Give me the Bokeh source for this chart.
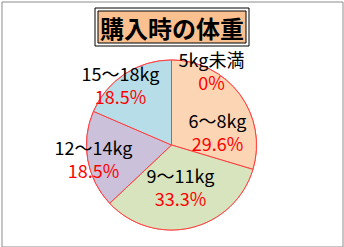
import math
from bokeh.plotting import figure
from bokeh.models import Range1d, ColumnDataSource
from bokeh.core.properties import value
from bokeh.embed import file_html
from bokeh.resources import INLINE

# ---- data ----
title = "購入時の体重"
categories = ["5kg未満", "6～8kg", "9～11kg", "12～14kg", "15～18kg"]
percents = [0.0, 29.6, 33.3, 18.5, 18.5]
pct_labels = ["0%", "29.6%", "33.3%", "18.5%", "18.5%"]
colors = ["#FCD5B5", "#FCD5B5", "#D7E4BD", "#CCC1DA", "#B7DEE8"]

# ---- layout (pixels) ----
W, H = 344, 247
CX, CY, R = 171, 144.5, 85
# label placement: polar (distance px, angle deg clockwise from top)
label_dist = [84.6, 48, 42.5, 79.2, 79.5]
label_ang = [28.2, 73.6, 167.8, 260.2, 320.1]
LINE_GAP = 11.5

def Y(ypx):
    return H - ypx

p = figure(width=W, height=H, output_backend="svg", toolbar_location=None,
           x_range=Range1d(0, W), y_range=Range1d(0, H), min_border=0)
p.axis.visible = False
p.grid.visible = False
p.outline_line_color = None
p.background_fill_color = "white"
p.border_fill_color = "white"

# outer gray frame
p.quad(left=[1.5], right=[342.5], bottom=[Y(246.5)], top=[Y(1.5)],
       fill_color=None, line_color="#8C8C8C", line_width=1)

# pie wedges
total = sum(percents)
starts, ends = [], []
cum = 0.0
for v in percents:
    a0 = math.pi / 2 - cum / total * 2 * math.pi
    cum += v
    a1 = math.pi / 2 - cum / total * 2 * math.pi
    starts.append(a0)
    ends.append(a1)
src = ColumnDataSource(dict(x=[CX] * len(percents), y=[Y(CY)] * len(percents),
                            start=starts, end=ends, color=colors))
p.wedge(x="x", y="y", radius=R, start_angle="start", end_angle="end",
        direction="clock", fill_color="color", line_color="#FF4040",
        line_width=1, source=src)

# labels
lx, ly_cat, ly_pct = [], [], []
for d, a in zip(label_dist, label_ang):
    t = math.radians(a)
    x = CX + d * math.sin(t)
    y = CY - d * math.cos(t)
    lx.append(x)
    ly_cat.append(Y(y - LINE_GAP))
    ly_pct.append(Y(y + LINE_GAP))
p.text(x=lx, y=ly_cat, text=categories, text_align="center", text_baseline="middle",
       text_font=value("Noto Sans CJK JP"), text_font_size="18px",
       text_color="black")
p.text(x=lx, y=ly_pct, text=pct_labels, text_align="center", text_baseline="middle",
       text_font=value("Noto Sans CJK JP"), text_font_size="18px",
       text_color="#FF0000")

# title box (double border)
p.quad(left=[94.5], right=[248.5], bottom=[Y(45.5)], top=[Y(7.5)],
       fill_color="white", line_color="black", line_width=1)
p.quad(left=[97.5], right=[245.5], bottom=[Y(42.5)], top=[Y(10.5)],
       fill_color="#FAC090", line_color="black", line_width=1)
p.text(x=[171.5], y=[Y(26.5)], text=[title], text_align="center", text_baseline="middle",
       text_font=value("Noto Sans CJK JP"), text_font_style="bold",
       text_font_size="24px", text_color="black")

open("out.html", "w").write(file_html(p, INLINE))
